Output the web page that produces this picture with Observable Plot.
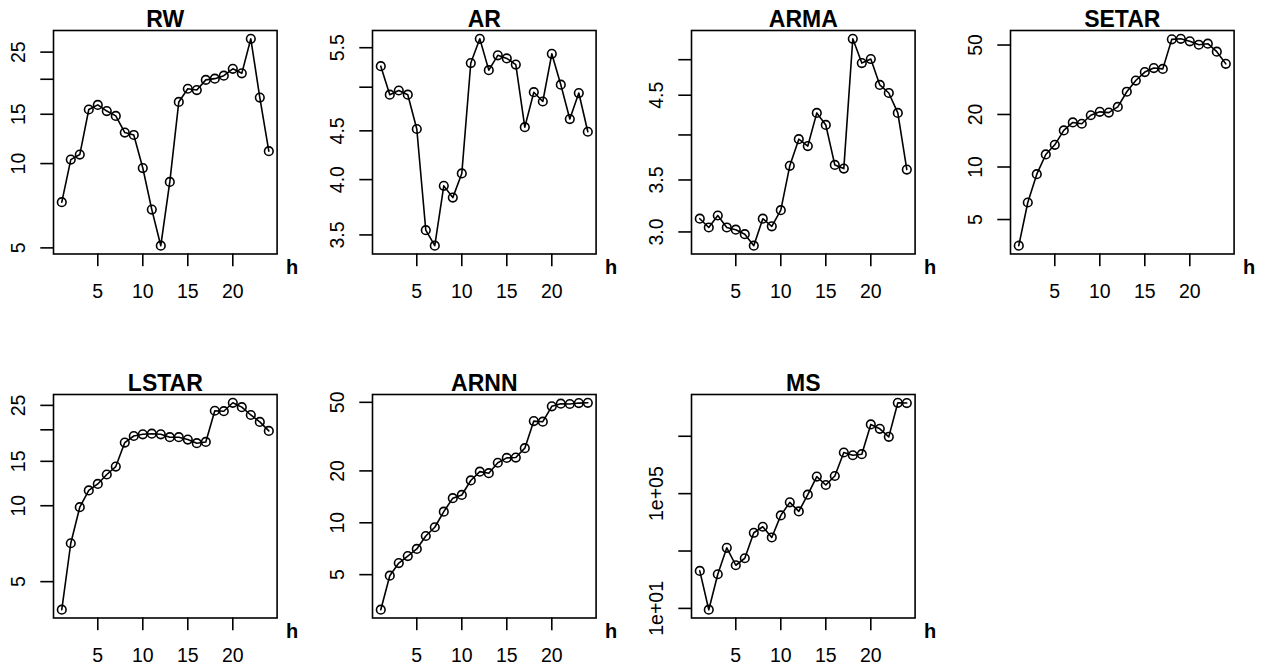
<!DOCTYPE html>
<html><head><meta charset="utf-8">
<script src="https://cdn.jsdelivr.net/npm/d3@7"></script>
<script src="https://cdn.jsdelivr.net/npm/@observablehq/plot@0.6"></script>
<style>
html,body{margin:0;padding:0;background:#fff;}
#chart{position:relative;width:1272px;height:671px;overflow:hidden;background:#fff;}
#chart svg{position:absolute;overflow:visible;}
</style></head><body><div id="chart"></div>
<script>
// ---- data ----
const h = [1,2,3,4,5,6,7,8,9,10,11,12,13,14,15,16,17,18,19,20,21,22,23,24];
const titles = ["RW","AR","ARMA","SETAR","LSTAR","ARNN","MS"];
const rw    = [7.28,10.33,10.77,15.6,16.2,15.4,14.8,12.9,12.65,9.64,6.85,5.09,8.6,16.6,18.5,18.3,19.9,20.1,20.6,21.8,21.0,27.9,17.2,11.07];
const ar    = [5.26,4.91,4.96,4.91,4.52,3.54,3.41,3.94,3.83,4.06,5.30,5.62,5.21,5.40,5.36,5.28,4.54,4.94,4.83,5.42,5.03,4.63,4.93,4.49];
const arma  = [3.12,3.04,3.15,3.04,3.02,2.98,2.88,3.12,3.05,3.20,3.65,3.95,3.87,4.27,4.12,3.66,3.62,5.32,4.95,5.01,4.64,4.53,4.27,3.61];
const setar = [3.54,6.26,9.1,11.8,13.4,16.2,18.0,17.7,19.8,20.7,20.5,22.1,27.0,31.3,35.0,36.9,36.5,53.9,54.3,52.5,50.2,50.9,45.8,39.0];
const lstar = [3.87,7.10,9.87,11.5,12.2,13.3,14.3,17.8,18.9,19.2,19.3,19.2,18.7,18.7,18.3,17.7,17.9,23.8,23.7,25.6,24.6,22.9,21.5,19.8];
const arnn  = [3.13,4.93,5.84,6.41,7.05,8.38,9.42,11.6,13.9,14.5,17.6,19.8,19.4,22.3,23.8,23.9,27.1,38.9,38.6,47.4,49.1,48.9,49.5,49.7];
const ms    = [203,9.0,155,1294,319,560,4325,7015,2965,17420,49650,24050,92250,392700,200000,412000,2716000,2180000,2370000,25900000,18200000,9530000,147000000,144000000];

const xTicks = [5,10,15,20];
const rwTicks = [5,10,15,20,25];        const rwLabels = ["5","10","15","","25"];
const arTicks = [3.5,4,4.5,5,5.5];      const arLabels = ["3.5","4.0","4.5","","5.5"];
const armaTicks = [3,3.5,4,4.5,5];      const armaLabels = ["3.0","3.5","","4.5",""];
const setarTicks = [5,10,20,50];        const setarLabels = ["5","10","20","50"];
const lstarTicks = [5,10,15,20,25];     const lstarLabels = ["5","10","15","","25"];
const arnnTicks = [5,10,20,50];         const arnnLabels = ["5","10","20","50"];
const msTicks = [10,1000,100000,10000000]; const msLabels = ["1e+01","","1e+05",""];
const xLabel = "h";

const series = [rw, ar, arma, setar, lstar, arnn, ms];
const yTicks = [rwTicks, arTicks, armaTicks, setarTicks, lstarTicks, arnnTicks, msTicks];
const yLabels = [rwLabels, arLabels, armaLabels, setarLabels, lstarLabels, arnnLabels, msLabels];

// ---- layout ----
const boxLeft = [53, 371.7, 691.2, 1010.4];
const boxW = 223.6;
const rowTop = [30.3, 394];
const boxH = 223.5;
const mL = 70, mR = 40, mT = 40, mB = 70;
const font = "'Liberation Sans', Arial, Helvetica, sans-serif";
const lw = 1.6;

const chart = document.getElementById("chart");

titles.forEach((title, i) => {
  const col = i % 4, row = Math.floor(i / 4);
  const vals = series[i];
  const rows = h.map((hh, j) => ({h: hh, v: vals[j]}));
  const lmin = Math.log10(d3.min(vals)), lmax = Math.log10(d3.max(vals));
  const ext = 0.04 * (lmax - lmin);
  const ticks = yTicks[i], labs = yLabels[i];
  const svg = Plot.plot({
    width: mL + boxW + mR,
    height: mT + boxH + mB,
    marginLeft: mL, marginRight: mR, marginTop: mT, marginBottom: mB,
    style: {fontFamily: font, fontSize: "19.5px", color: "black", background: "transparent", overflow: "visible"},
    x: {type: "linear", domain: [0.08, 24.92]},
    y: {type: "log", domain: [Math.pow(10, lmin - ext), Math.pow(10, lmax + ext)]},
    marks: [
      Plot.frame({stroke: "black", strokeWidth: lw}),
      Plot.axisX({ticks: xTicks, tickFormat: d => String(d), tickSize: 12.7, tickPadding: 17.3, label: null, strokeWidth: lw}),
      Plot.axisY({ticks: ticks, tickFormat: d => labs[ticks.indexOf(d)], tickRotate: -90, tickSize: 12.7, tickPadding: 16, label: null, strokeWidth: lw}),
      Plot.line(rows, {x: "h", y: "v", stroke: "black", strokeWidth: lw}),
      Plot.dot(rows, {x: "h", y: "v", r: 4.3, stroke: "black", fill: "none", strokeWidth: lw}),
      Plot.text([title], {text: d => d, frameAnchor: "top", dy: -3, lineAnchor: "bottom", fontSize: 23, fontWeight: "bold"}),
      Plot.text([xLabel], {text: d => d, frameAnchor: "bottom-right", textAnchor: "start", dx: 9, dy: 20, lineAnchor: "bottom", fontSize: 20, fontWeight: "bold"})
    ]
  });
  svg.style.left = (boxLeft[col] - mL) + "px";
  svg.style.top = (rowTop[row] - mT) + "px";
  chart.appendChild(svg);
});
</script>
</body></html>
